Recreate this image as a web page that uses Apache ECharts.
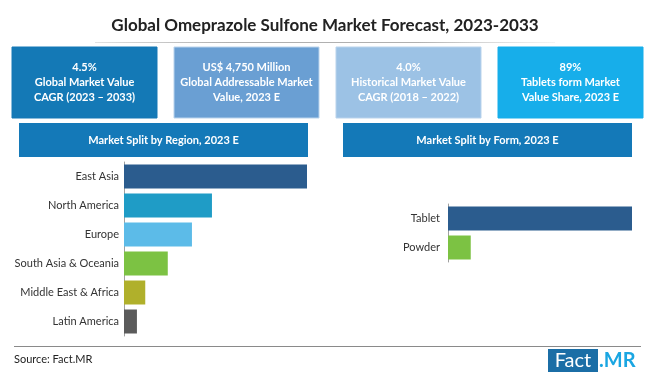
<!DOCTYPE html>
<html><head><meta charset="utf-8">
<script src="https://cdn.jsdelivr.net/npm/echarts@6/dist/echarts.min.js"></script>
<style>html,body{margin:0;padding:0;background:#fff}#c{width:650px;height:377px}</style>
</head><body><div id="c"></div>
<script>
const regionCategories = ['East Asia','North America','Europe','South Asia & Oceania','Middle East & Africa','Latin America'];
const regionValues = [43.9, 21.1, 16.3, 10.5, 5.1, 3.1];
const regionColors = ['#2b5c8e','#1f9cc6','#5cbbe8','#7cc243','#b0b02b','#5b5b5b'];
const formCategories = ['Tablet','Powder'];
const formValues = [89, 11];
const formColors = ['#2b5c8e','#7cc243'];
const statBoxes = [
  ['4.5%','Global Market Value','CAGR (2023 – 2033)'],
  ['US$ 4,750 Million','Global Addressable Market','Value, 2023 E'],
  ['4.0%','Historical Market Value','CAGR (2018 – 2022)'],
  ['89%','Tablets form Market','Value Share, 2023 E']
];
const boxColors = ['#1479b6','#6a9fd3','#9cc2e5','#17aeea'];
const FONT = 'Lato';

const chart = echarts.init(document.getElementById('c'));
const graphics = [];
const boxX = [12, 174, 336, 498];
statBoxes.forEach((lines, i) => {
  graphics.push({type:'rect', shape:{x:boxX[i], y:47, width:145, height:71},
    style:{fill:boxColors[i], stroke: i===1||i===2 ? '#b9d3ec' : boxColors[i], lineWidth:1}});
  graphics.push({type:'text', x:boxX[i]+72.5, y:82.5,
    style:{text:lines.join('\n'), fill:'#fff', font:'bold 11px '+FONT, lineHeight:15, align:'center', verticalAlign:'middle'}});
});
// header bars
[[19,289,'Market Split by Region, 2023 E'],[343,289,'Market Split by Form, 2023 E']].forEach(h => {
  graphics.push({type:'rect', shape:{x:h[0], y:123, width:h[1], height:34}, style:{fill:'#1479b8'}});
  graphics.push({type:'text', x:h[0]+h[1]/2, y:140, style:{text:h[2], fill:'#fff', font:'bold 11px '+FONT, align:'center', verticalAlign:'middle'}});
});
// title underline
graphics.push({type:'rect', shape:{x:95, y:42, width:460, height:1},
  style:{fill:new echarts.graphic.LinearGradient(0,0,1,0,[{offset:0,color:'rgba(160,160,160,0.3)'},{offset:0.3,color:'#b0b0b0'},{offset:0.7,color:'#b0b0b0'},{offset:1,color:'rgba(200,200,200,0.2)'}])}});
// footer line
graphics.push({type:'rect', shape:{x:14, y:346, width:627, height:1}, style:{fill:'#8a8a8a'}});
graphics.push({type:'text', x:14, y:359, style:{text:'Source: Fact.MR', fill:'#222', font:'11px '+FONT, verticalAlign:'middle'}});
// logo
graphics.push({type:'rect', shape:{x:548, y:349, width:50, height:23}, style:{fill:'#1b6ea6'}});
graphics.push({type:'text', x:573, y:361, style:{text:'Fact', fill:'#fff', font:'20px "Liberation Sans Narrow", '+FONT, align:'center', verticalAlign:'middle'}});
graphics.push({type:'text', x:599, y:361, style:{text:'.MR', fill:'#1aa6e2', font:'bold 20px "Liberation Sans Narrow", '+FONT, verticalAlign:'middle'}});

chart.setOption({
  animation:false,
  title:{text:'Global Omeprazole Sulfone Market Forecast, 2023-2033', left:'center', top:12,
    textStyle:{fontFamily:FONT, fontSize:17, fontWeight:'bold', color:'#222'}},
  graphic: graphics,
  grid:[
    {left:124, right:343, top:162, height:174},
    {left:448, right:18, top:204, height:58}
  ],
  xAxis:[
    {gridIndex:0, type:'value', min:0, max:'dataMax', show:false},
    {gridIndex:1, type:'value', min:0, max:'dataMax', show:false}
  ],
  yAxis:[
    {gridIndex:0, type:'category', inverse:true, data:regionCategories,
      axisLine:{lineStyle:{color:'#a0a0a0'}}, axisTick:{show:false},
      axisLabel:{fontFamily:FONT, fontSize:11, color:'#333', margin:5}},
    {gridIndex:1, type:'category', inverse:true, data:formCategories,
      axisLine:{lineStyle:{color:'#a0a0a0'}}, axisTick:{show:false},
      axisLabel:{fontFamily:FONT, fontSize:11, color:'#333', margin:8}}
  ],
  series:[
    {type:'bar', xAxisIndex:0, yAxisIndex:0, barWidth:24,
      data: regionValues.map((v,i)=>({value:v, itemStyle:{color:regionColors[i]}}))},
    {type:'bar', xAxisIndex:1, yAxisIndex:1, barWidth:24,
      data: formValues.map((v,i)=>({value:v, itemStyle:{color:formColors[i]}}))}
  ]
});
</script></body></html>
